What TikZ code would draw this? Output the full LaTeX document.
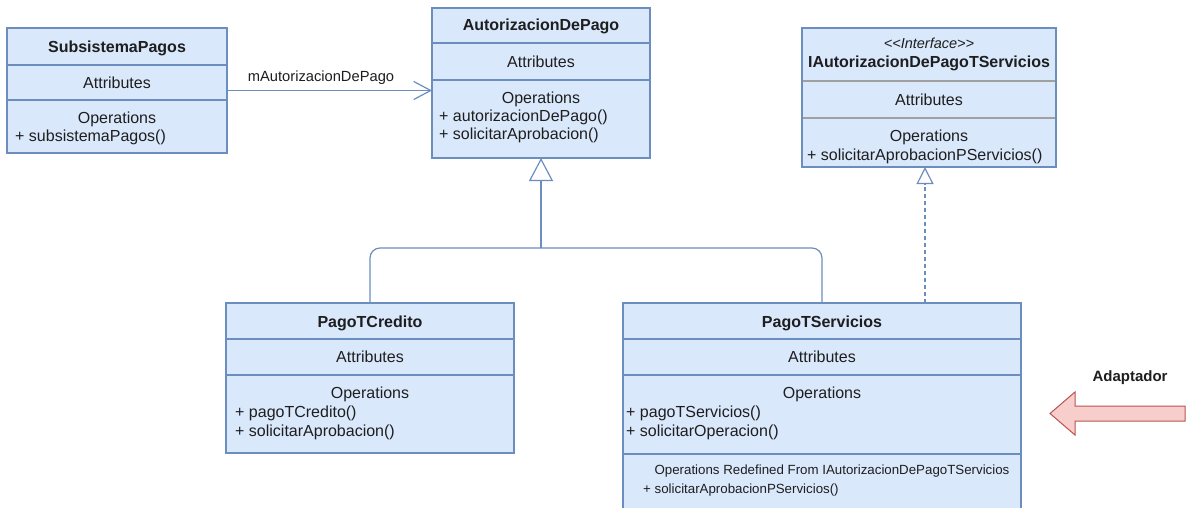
\documentclass[tikz,border=0pt]{standalone}
\usepackage{fontspec}
\setmainfont{Liberation Sans}
\usetikzlibrary{arrows.meta}

\definecolor{umlfill}{HTML}{DAE8FC}
\definecolor{umlline}{HTML}{6C8EBF}
\definecolor{umlgray}{HTML}{A0A0A0}
\definecolor{adfill}{HTML}{F8CECC}
\definecolor{adline}{HTML}{B85450}
\definecolor{txt}{HTML}{1E1E1E}

\tikzset{
  classbox/.style={draw=umlline, fill=umlfill, line width=1.3pt, inner sep=0pt, outer sep=0pt},
  divider/.style={draw=umlline, line width=1.1pt},
  graydivider/.style={draw=umlgray, line width=1.1pt},
  lbl/.style={font=\fontsize{16}{19}\selectfont, text=txt, inner sep=0pt, text height=11.5pt, text depth=0.5pt},
  ttl/.style={lbl, font=\fontsize{16}{19}\selectfont\bfseries},
  oper/.style={lbl, anchor=west},
  small/.style={font=\fontsize{13.3}{16}\selectfont, text=txt, inner sep=0pt, text height=9.6pt, text depth=0.4pt},
  stereo/.style={font=\fontsize{14.5}{17}\selectfont\itshape, text=txt, inner sep=0pt, text height=10pt, text depth=0.4pt},
  assoc/.style={draw=umlline, line width=1.2pt, -{Straight Barb[length=17pt,width=18pt]}},
  gen/.style={draw=umlline, line width=1.2pt},
  genhead/.style={gen, -{Triangle[open,length=23pt,width=24pt]}},
  real/.style={draw=umlline, line width=1.2pt, dash pattern=on 4pt off 3pt, -{Triangle[open,length=17pt,width=17pt]}},
}

\begin{document}
\begin{tikzpicture}[x=1pt,y=-1pt]
\useasboundingbox (0,0) rectangle (1191,508);
\fill[white] (0,0) rectangle (1191,508);

% SubsistemaPagos
\node[classbox, minimum width=220pt, minimum height=125pt] (sp) at (117,90.5) {};
\draw[divider] (7,65) -- (227,65);
\draw[divider] (7,100) -- (227,100);
\node[ttl] (spT) at (117,47) {SubsistemaPagos};
\node[lbl] (spA) at (117,83) {Attributes};
\node[lbl] (spO) at (117,118) {Operations};
\node[oper] (spO1) at (15,136) {+ subsistemaPagos()};

% AutorizacionDePago
\node[classbox, minimum width=218pt, minimum height=150pt] (adp) at (541,83) {};
\draw[divider] (432,43) -- (650,43);
\draw[divider] (432,80) -- (650,80);
\node[ttl] (adpT) at (541,25) {AutorizacionDePago};
\node[lbl] (adpA) at (541,62) {Attributes};
\node[lbl] (adpO) at (541,98) {Operations};
\node[oper] (adpO1) at (439,116) {+ autorizacionDePago()};
\node[oper] (adpO2) at (439,134) {+ solicitarAprobacion()};

% IAutorizacionDePagoTServicios
\node[classbox, minimum width=254pt, minimum height=139pt] (ifc) at (929,97.5) {};
\draw[graydivider] (802.6,81) -- (1055.4,81);
\draw[graydivider] (802.6,118) -- (1055.4,118);
\node[stereo] (ifcS) at (929,44) {<\kern0pt<Interface>\kern0pt>};
\node[ttl] (ifcT) at (929,62) {IAutorizacionDePagoTServicios};
\node[lbl] (ifcA) at (929,100) {Attributes};
\node[lbl] (ifcO) at (929,136) {Operations};
\node[oper] (ifcO1) at (807,155) {+ solicitarAprobacionPServicios()};

% PagoTCredito
\node[classbox, minimum width=288pt, minimum height=150pt] (ptc) at (370,378) {};
\draw[divider] (226,339) -- (514,339);
\draw[divider] (226,375) -- (514,375);
\node[ttl] (ptcT) at (370,322) {PagoTCredito};
\node[lbl] (ptcA) at (370,357) {Attributes};
\node[lbl] (ptcO) at (370,393) {Operations};
\node[oper] (ptcO1) at (235,412) {+ pagoTCredito()};
\node[oper] (ptcO2) at (235,431) {+ solicitarAprobacion()};

% PagoTServicios
\node[classbox, minimum width=398pt, minimum height=217pt] (pts) at (822,411.5) {};
\draw[divider] (623,339) -- (1021,339);
\draw[divider] (623,375) -- (1021,375);
\draw[divider] (623,454) -- (1021,454);
\node[ttl] (ptsT) at (822,322) {PagoTServicios};
\node[lbl] (ptsA) at (822,357) {Attributes};
\node[lbl] (ptsO) at (822,393) {Operations};
\node[oper] (ptsO1) at (626,412) {+ pagoTServicios()};
\node[oper] (ptsO2) at (626,431) {+ solicitarOperacion()};
\node[small] (ptsR) at (832,470) {Operations Redefined From IAutorizacionDePagoTServicios};
\node[small, anchor=west] (ptsR1) at (643,489) {+ solicitarAprobacionPServicios()};

% association
\draw[assoc] (sp.east) -- (sp.east -| adp.west);
\node[font=\fontsize{14.7}{17}\selectfont, text=txt, inner sep=0pt] (assocL) at (321,78) {mAutorizacionDePago};

% generalization tree
\coordinate (gj) at (541,248);
\draw[gen, rounded corners=10pt] (ptc.north) |- (gj) -| (pts.north);
\draw[genhead] (gj) -- (adp.south);

% realization
\coordinate (rx) at (925,0);
\draw[real] (pts.north -| rx) -- (ifc.south -| rx);

% adapter marker
\draw[fill=adfill, draw=adline, line width=1pt, line join=miter]
  (1050,413.5) -- (1075,392) -- (1075,406) -- (1185,406) -- (1185,421) -- (1075,421) -- (1075,435) -- cycle;
\node[font=\fontsize{15}{18}\selectfont\bfseries, text=txt, inner sep=0pt] (adL) at (1130,378) {Adaptador};
\end{tikzpicture}
\end{document}
